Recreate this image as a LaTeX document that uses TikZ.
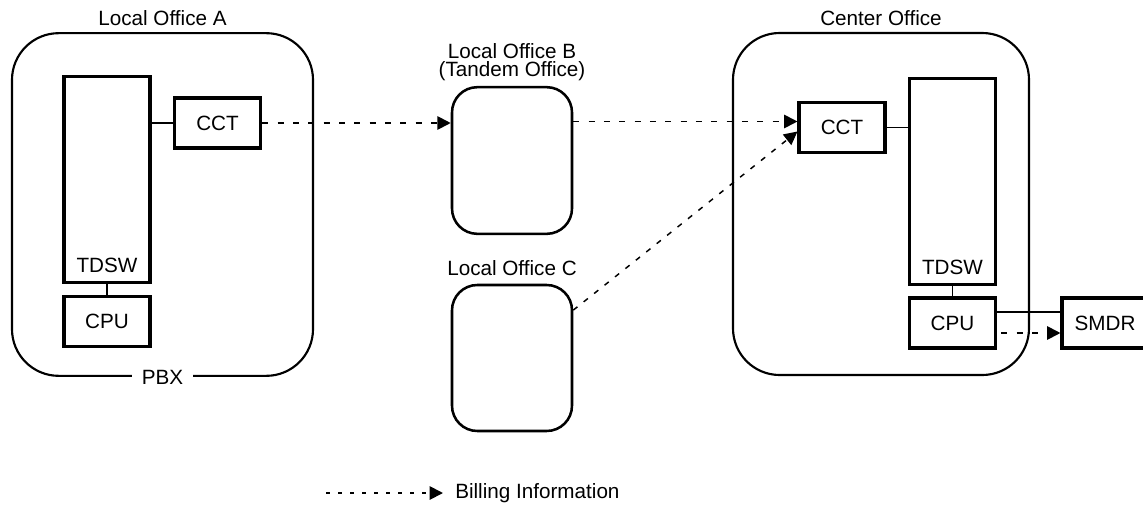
\documentclass[tikz,border=0pt]{standalone}
\usepackage{fontspec}
\setmainfont{Liberation Sans}
\usetikzlibrary{arrows.meta,positioning}
\tikzset{
    office/.style={draw, line width=1.6pt, rounded corners=35pt},
    smalloffice/.style={draw, line width=1.9pt, rounded corners=19pt, minimum width=90pt},
    unit/.style={draw, line width=2.3pt, inner sep=0pt, minimum width=64.5pt},
    tallunit/.style={unit, minimum height=155pt},
    shortunit/.style={unit, minimum height=37.5pt},
    title/.style={inner sep=0pt, align=center},
    link/.style={line width=1.4pt},
    bill/.style={line width=1.4pt, dash pattern=on 4.5pt off 7pt, -{Triangle[length=10pt,width=10pt]}},
}

\begin{document}
\begin{tikzpicture}[x=0.75pt, y=-0.75pt, font=\fontsize{15.5}{13.5}\selectfont]
        \useasboundingbox (0,0) rectangle (1143,507);
        \clip (0,0) rectangle (1143,507);
        %local office a
        \node[office, minimum width=225.75pt, minimum height=257pt] (offA) at (162.5,204.5) {};
        \node[title, above=4.5pt of offA] (labA) {Local Office A};
        \node[fill=white, inner xsep=7pt, inner ysep=1pt] (pbx) at (offA.south) {PBX};
        \node[tallunit] (swA) at (107,179.5) {};
        \node[title, anchor=base] (swAt) at ([yshift=9pt]swA.south) {TDSW};
        \node[shortunit] (cpuA) at (107,321.5) {CPU};
        \node[shortunit, minimum width=65pt] (cctA) at (217.5,123) {CCT};
        \draw[link] (swA) -- (cpuA);
        \draw[link] (cctA.west) -- (cctA.west -| swA.east);
        %local offices b and c
        \node[smalloffice, minimum height=110pt] (offB) at (512,160.5) {};
        \node[title, above=3.5pt of offB] (labB) {Local Office B\\(Tandem Office)};
        \node[smalloffice, minimum height=109.5pt] (offC) at (512,358) {};
        \node[title, above=5.5pt of offC] (labC) {Local Office C};
        %center office
        \node[office, minimum width=222pt, minimum height=256.5pt] (offCe) at (881,204) {};
        \node[title, above=4.5pt of offCe] (labCe) {Center Office};
        \node[shortunit] (cctC) at (842,127.5) {CCT};
        \node[tallunit, minimum width=65pt] (swC) at (952.5,181.5) {};
        \node[title, anchor=base] (swCt) at ([yshift=9pt]swC.south) {TDSW};
        \node[shortunit, minimum width=65pt] (cpuC) at (952.5,323) {CPU};
        \node[shortunit] (smdr) at (1105,323) {SMDR};
        \draw[link] (cctC.east) -- (cctC.east -| swC.west);
        \draw[link] (swC) -- (cpuC);
        \draw[link] ([yshift=8.25pt]cpuC.east) -- ([yshift=8.25pt]cpuC.east -| smdr.west);
        %billing information
        \coordinate (bIn) at ([yshift=4.5pt]cctC.west);
        \coordinate (cIn) at ([yshift=-3pt]cctC.west);
        \draw[bill] (cctA.east) -- (cctA.east -| offB.west);
        \draw[bill] (bIn -| offB.east) -- (bIn);
        \draw[bill, line width=1.1pt, dash pattern=on 4pt off 6pt] (offC.38) -- (cIn);
        \draw[bill] ([xshift=3pt,yshift=-7.5pt]cpuC.east) -- ([yshift=-7.5pt]cpuC.east -| smdr.west);
        %legend
        \coordinate (legS) at (326,493);
        \node[anchor=west, inner xsep=9pt, inner ysep=0pt] (legT) at (443,493) {Billing Information};
        \draw[bill, dash pattern=on 3pt off 6pt] (legS) -- (legT);
    \end{tikzpicture}
\end{document}
